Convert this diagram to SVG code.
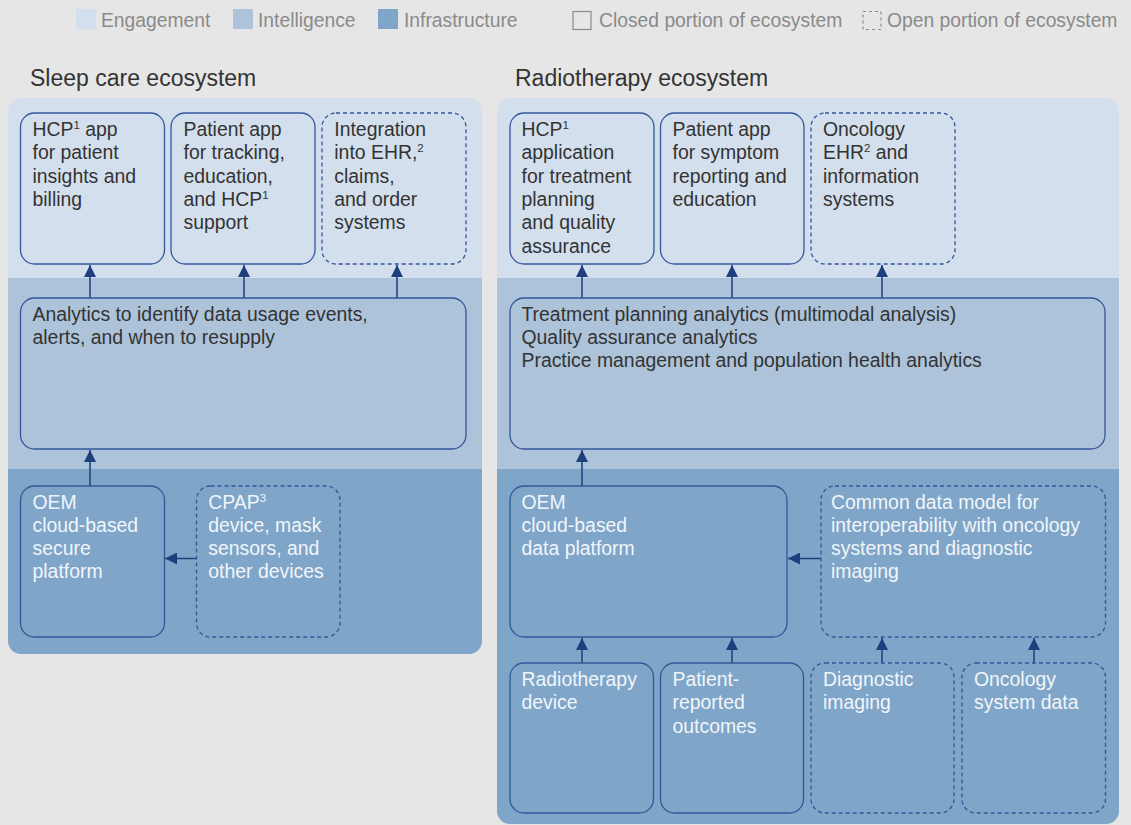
<svg xmlns="http://www.w3.org/2000/svg" width="1131" height="825" viewBox="0 0 1131 825">
<style>
text{font-family:"Liberation Sans",Arial,Helvetica,sans-serif}
.leg{font-size:19.3px;fill:#8a8a8a}
.title{font-size:23px;fill:#333}
.t{font-size:19.4px;fill:#333}
.w{font-size:19.4px;fill:#f1f5fa}
.sup{font-size:11.5px}
.box{fill:none;stroke:#34579a;stroke-width:1.3}
.dash{fill:none;stroke:#34579a;stroke-width:1.3;stroke-dasharray:4 3}
.arr{stroke:#1d3f7e;stroke-width:1.5;fill:none;marker-end:url(#ah)}
</style>
<defs>
<marker id="ah" markerUnits="userSpaceOnUse" viewBox="0 0 13 12" markerWidth="13" markerHeight="12" refX="12" refY="6" orient="auto">
<path d="M0,0 L12,6 L0,12 z" fill="#1d3f7e"/>
</marker>
<clipPath id="cl"><rect x="8" y="98" width="474" height="556" rx="13"/></clipPath>
<clipPath id="cr"><rect x="497" y="98" width="622" height="726" rx="13"/></clipPath>
</defs>
<rect width="1131" height="825" fill="#e6e6e6"/>

<g id="legend">
<rect x="76" y="9" width="20" height="20" fill="#d3dfec"/>
<text class="leg" x="101" y="27">Engagement</text>
<rect x="233" y="9" width="20" height="20" fill="#adc3da"/>
<text class="leg" x="258" y="27">Intelligence</text>
<rect x="378" y="9" width="20" height="20" fill="#7fa5c8"/>
<text class="leg" x="404" y="27">Infrastructure</text>
<rect x="573" y="11.5" width="18" height="18" fill="none" stroke="#8a8a8a" stroke-width="1.2"/>
<text class="leg" x="599" y="27">Closed portion of ecosystem</text>
<rect x="863" y="11.5" width="18" height="18" fill="none" stroke="#8a8a8a" stroke-width="1.2" stroke-dasharray="3 3"/>
<text class="leg" x="887" y="27">Open portion of ecosystem</text>
</g>

<g id="panel-left">
<text class="title" x="30" y="86">Sleep care ecosystem</text>
<g clip-path="url(#cl)">
<rect x="8" y="98" width="474" height="180" fill="#d3dfec"/>
<rect x="8" y="278" width="474" height="191" fill="#adc3da"/>
<rect x="8" y="469" width="474" height="185" fill="#7fa5c8"/>
</g>
</g>

<g id="panel-right">
<text class="title" x="515" y="86">Radiotherapy ecosystem</text>
<g clip-path="url(#cr)">
<rect x="497" y="98" width="622" height="180" fill="#d3dfec"/>
<rect x="497" y="278" width="622" height="191" fill="#adc3da"/>
<rect x="497" y="469" width="622" height="355" fill="#7fa5c8"/>
</g>
</g>

<g id="connectors">
<line class="arr" x1="90" y1="298" x2="90" y2="265"/>
<line class="arr" x1="244" y1="298" x2="244" y2="265"/>
<line class="arr" x1="397" y1="298" x2="397" y2="265"/>
<line class="arr" x1="90" y1="486" x2="90" y2="450"/>
<line class="arr" x1="197" y1="558.5" x2="165" y2="558.5"/>
<line class="arr" x1="582" y1="298" x2="582" y2="265"/>
<line class="arr" x1="732" y1="298" x2="732" y2="265"/>
<line class="arr" x1="882" y1="298" x2="882" y2="265"/>
<line class="arr" x1="582" y1="486" x2="582" y2="450"/>
<line class="arr" x1="821" y1="558.5" x2="788" y2="558.5"/>
<line class="arr" x1="582" y1="663" x2="582" y2="638"/>
<line class="arr" x1="732" y1="663" x2="732" y2="638"/>
<line class="arr" x1="882" y1="663" x2="882" y2="638"/>
<line class="arr" x1="1034" y1="663" x2="1034" y2="638"/>
</g>

<g id="sleep-hcp-app">
<rect class="box" x="20.5" y="113" width="144" height="151" rx="14"/>
<text class="t" x="32.5" y="136">HCP<tspan class="sup" baseline-shift="7">1</tspan> app</text>
<text class="t" x="32.5" y="159.3">for patient</text>
<text class="t" x="32.5" y="182.6">insights and</text>
<text class="t" x="32.5" y="205.9">billing</text>
</g>
<g id="sleep-patient-app">
<rect class="box" x="171" y="113" width="144" height="151" rx="14"/>
<text class="t" x="183.5" y="136">Patient app</text>
<text class="t" x="183.5" y="159.3">for tracking,</text>
<text class="t" x="183.5" y="182.6">education,</text>
<text class="t" x="183.5" y="205.9">and HCP<tspan class="sup" baseline-shift="7">1</tspan></text>
<text class="t" x="183.5" y="229.2">support</text>
</g>
<g id="sleep-integration">
<rect class="dash" x="322" y="113" width="144" height="151" rx="14"/>
<text class="t" x="334.3" y="136">Integration</text>
<text class="t" x="334.3" y="159.3">into EHR,<tspan class="sup" baseline-shift="7">2</tspan></text>
<text class="t" x="334.3" y="182.6">claims,</text>
<text class="t" x="334.3" y="205.9">and order</text>
<text class="t" x="334.3" y="229.2">systems</text>
</g>
<g id="sleep-analytics">
<rect class="box" x="20.5" y="298" width="445.5" height="151" rx="14"/>
<text class="t" x="32.5" y="320.5">Analytics to identify data usage events,</text>
<text class="t" x="32.5" y="343.8">alerts, and when to resupply</text>
</g>
<g id="sleep-oem">
<rect class="box" x="20.5" y="486" width="144" height="151" rx="14"/>
<text class="w" x="32.5" y="508.5">OEM</text>
<text class="w" x="32.5" y="531.8">cloud-based</text>
<text class="w" x="32.5" y="555.1">secure</text>
<text class="w" x="32.5" y="578.4">platform</text>
</g>
<g id="sleep-cpap">
<rect class="dash" x="196.5" y="486" width="143.5" height="151" rx="14"/>
<text class="w" x="208.3" y="508.5">CPAP<tspan class="sup" baseline-shift="7">3</tspan></text>
<text class="w" x="208.3" y="531.8">device, mask</text>
<text class="w" x="208.3" y="555.1">sensors, and</text>
<text class="w" x="208.3" y="578.4">other devices</text>
</g>

<g id="rt-hcp-app">
<rect class="box" x="510" y="113" width="144" height="151" rx="14"/>
<text class="t" x="521.5" y="136">HCP<tspan class="sup" baseline-shift="7">1</tspan></text>
<text class="t" x="521.5" y="159.3">application</text>
<text class="t" x="521.5" y="182.6">for treatment</text>
<text class="t" x="521.5" y="205.9">planning</text>
<text class="t" x="521.5" y="229.2">and quality</text>
<text class="t" x="521.5" y="252.5">assurance</text>
</g>
<g id="rt-patient-app">
<rect class="box" x="660.5" y="113" width="143.5" height="151" rx="14"/>
<text class="t" x="672.5" y="136">Patient app</text>
<text class="t" x="672.5" y="159.3">for symptom</text>
<text class="t" x="672.5" y="182.6">reporting and</text>
<text class="t" x="672.5" y="205.9">education</text>
</g>
<g id="rt-oncology-ehr">
<rect class="dash" x="811" y="113" width="144" height="151" rx="14"/>
<text class="t" x="823" y="136">Oncology</text>
<text class="t" x="823" y="159.3">EHR<tspan class="sup" baseline-shift="7">2</tspan> and</text>
<text class="t" x="823" y="182.6">information</text>
<text class="t" x="823" y="205.9">systems</text>
</g>
<g id="rt-analytics">
<rect class="box" x="510" y="298" width="595" height="151" rx="14"/>
<text class="t" x="521.5" y="320.5">Treatment planning analytics (multimodal analysis)</text>
<text class="t" x="521.5" y="343.8">Quality assurance analytics</text>
<text class="t" x="521.5" y="367.1">Practice management and population health analytics</text>
</g>
<g id="rt-oem">
<rect class="box" x="510" y="486" width="277" height="151" rx="14"/>
<text class="w" x="521.5" y="508.5">OEM</text>
<text class="w" x="521.5" y="531.8">cloud-based</text>
<text class="w" x="521.5" y="555.1">data platform</text>
</g>
<g id="rt-common-data-model">
<rect class="dash" x="821" y="486" width="284.5" height="151" rx="14"/>
<text class="w" x="831" y="508.5">Common data model for</text>
<text class="w" x="831" y="531.8">interoperability with oncology</text>
<text class="w" x="831" y="555.1">systems and diagnostic</text>
<text class="w" x="831" y="578.4">imaging</text>
</g>
<g id="rt-device">
<rect class="box" x="510" y="663" width="143.5" height="150" rx="14"/>
<text class="w" x="521.5" y="686">Radiotherapy</text>
<text class="w" x="521.5" y="709.3">device</text>
</g>
<g id="rt-pro">
<rect class="box" x="660.5" y="663" width="143" height="150" rx="14"/>
<text class="w" x="672.5" y="686">Patient-</text>
<text class="w" x="672.5" y="709.3">reported</text>
<text class="w" x="672.5" y="732.6">outcomes</text>
</g>
<g id="rt-diagnostic">
<rect class="dash" x="811" y="663" width="143" height="150" rx="14"/>
<text class="w" x="823" y="686">Diagnostic</text>
<text class="w" x="823" y="709.3">imaging</text>
</g>
<g id="rt-oncology-data">
<rect class="dash" x="962" y="663" width="143.5" height="150" rx="14"/>
<text class="w" x="974" y="686">Oncology</text>
<text class="w" x="974" y="709.3">system data</text>
</g>
</svg>
